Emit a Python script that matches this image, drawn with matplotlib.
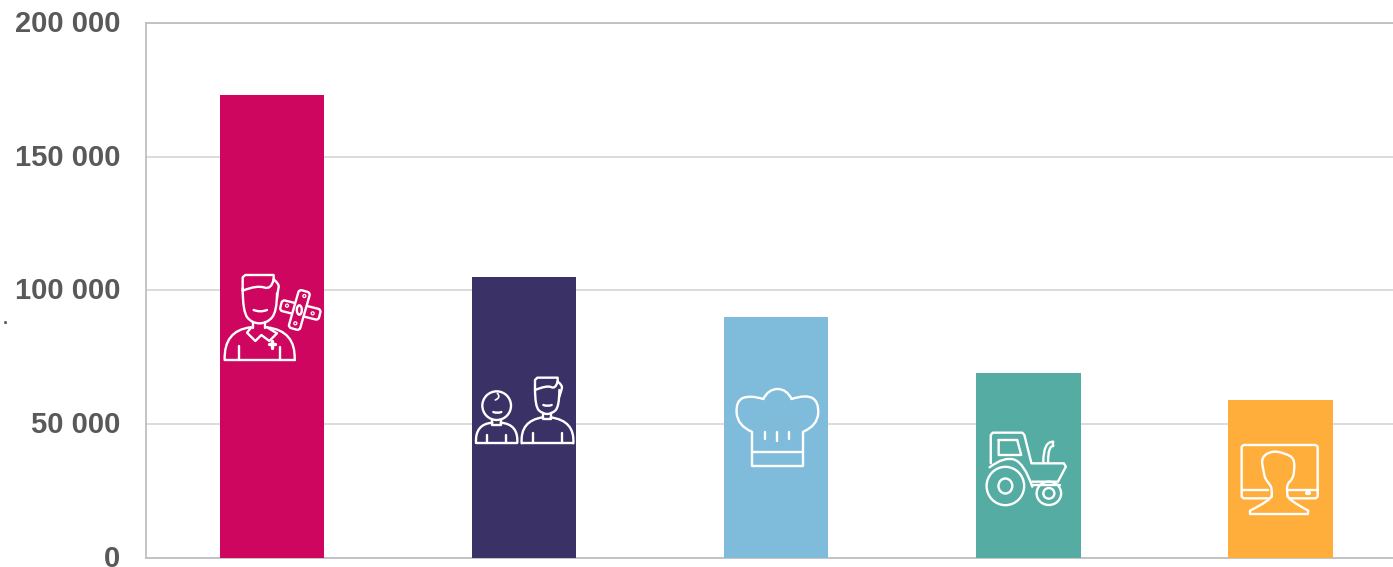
import matplotlib
matplotlib.use("Agg")
import matplotlib.pyplot as plt
from matplotlib.path import Path
from matplotlib.patches import PathPatch, Ellipse, FancyBboxPatch
from matplotlib.transforms import Affine2D, ScaledTranslation

plt.rcParams['font.family'] = ['Liberation Sans', 'DejaVu Sans']

values = [173000, 105000, 90000, 69000, 59000]
colors = ['#cf065f', '#3a3266', '#7fbcdb', '#55aca3', '#ffae3b']
ticks = [0, 50000, 100000, 150000, 200000]
tick_labels = ['0', '50 000', '100 000', '150 000', '200 000']

W, H = 1393, 567
fig = plt.figure(figsize=(W / 100, H / 100), dpi=100)

# axes box in pixels: x 146-1393, y 23-558
ax = fig.add_axes([146 / W, 1 - 558 / H, (1393 - 146) / W, (558 - 23) / H])
ax.bar(range(len(values)), values, width=0.414, color=colors, zorder=3)
ax.set_xlim(-0.5, 4.446)
ax.set_ylim(0, 200000)
ax.set_yticks(ticks)
ax.set_yticklabels(tick_labels, fontsize=21, fontweight='bold', color='#595959')
ax.set_xticks([])
ax.tick_params(axis='y', length=0, pad=18.5)
ax.grid(axis='y', color='#d9d9d9', lw=1.3, zorder=0)
for s in ['top', 'left', 'bottom']:
    ax.spines[s].set_color('#bfbfbf')
    ax.spines[s].set_linewidth(1.3)
ax.spines['right'].set_visible(False)
for lab in ax.get_yticklabels():
    lab.set_transform(lab.get_transform() + ScaledTranslation(0, 2 / 100, fig.dpi_scale_trans))

# overlay in pixel coords for the white icons
ov = fig.add_axes([0, 0, 1, 1], zorder=5)
ov.set_xlim(0, W)
ov.set_ylim(H, 0)
ov.axis('off')
ov.patch.set_alpha(0)

ov.text(5, 324, '.', fontsize=13, fontweight='bold', color='#595959', ha='center', va='baseline')

LW = 1.7


def conv(pts, off):
    return [(off[0] + x / off[2], off[1] + y / 3) for x, y in pts]


def line(pts, off, lw=LW):
    p = conv(pts, off)
    ov.plot([a for a, b in p], [b for a, b in p], color='white', lw=lw,
            solid_joinstyle='round', solid_capstyle='round')


def curve(pts, off, lw=LW, fc='none'):
    # quadratic spline through midpoints, ends kept
    p = conv(pts, off)
    verts = [p[0]]
    codes = [Path.MOVETO]
    for i in range(1, len(p) - 1):
        end = p[i + 1] if i == len(p) - 2 else ((p[i][0] + p[i + 1][0]) / 2, (p[i][1] + p[i + 1][1]) / 2)
        verts += [p[i], end]
        codes += [Path.CURVE3, Path.CURVE3]
    if len(p) == 2:
        verts.append(p[1])
        codes.append(Path.LINETO)
    ov.add_patch(PathPatch(Path(verts, codes), fc=fc, ec='white', lw=lw, capstyle='round', joinstyle='round'))


def oval(cx, cy, w, h, off, lw=LW):
    c = conv([(cx, cy)], off)[0]
    ov.add_patch(Ellipse(c, w / off[2], h / 3, fc='none', ec='white', lw=lw))


def band(cx, cy, length, thick, angle, off, fc):
    c = conv([(cx, cy)], off)[0]
    L, T = length / 3, thick / 3
    ov.add_patch(FancyBboxPatch((c[0] - L / 2, c[1] - T / 2), L, T, boxstyle='round,pad=0,rounding_size=3',
                                fc=fc, ec='white', lw=LW,
                                transform=Affine2D().rotate_deg_around(c[0], c[1], angle) + ov.transData))


# medic
om = (222, 270, 3)
line([(62, 62), (62, 22), (70, 15), (155, 15), (155, 28)], om)
curve([(155, 28), (172, 42), (168, 60), (165, 85)], om)
curve([(62, 55), (62, 125), (90, 160), (135, 160), (165, 125), (165, 70)], om)
curve([(62, 62), (105, 45), (148, 60), (155, 28)], om)
curve([(95, 120), (115, 128), (135, 120)], om)
line([(92, 155), (92, 175)], om)
line([(130, 155), (130, 175)], om)
curve([(8, 270), (5, 182), (85, 172)], om)
curve([(135, 172), (222, 182), (218, 270)], om)
line([(8, 270), (218, 270)], om)
line([(50, 228), (50, 270)], om)
line([(175, 232), (175, 270)], om)
line([(88, 172), (75, 188), (100, 213), (118, 195), (142, 213), (165, 190), (135, 172)], om)
line([(150, 212), (150, 233)], om, lw=2.4)
line([(140, 222), (160, 222)], om, lw=2.4)
band(235, 120, 120, 33, 14, om, colors[0])
band(232, 120, 118, 35, -74, om, colors[0])
oval(232, 120, 15, 28, om)
for cx, cy in [(195, 107), (272, 130), (247, 78), (220, 160)]:
    oval(cx, cy, 9, 9, om, lw=0.9)

# parent and child
o1 = (210, 260, 3)
line([(975, 385), (975, 360), (982, 353), (1043, 353), (1043, 365)], o1)
curve([(1043, 365), (1058, 375), (1053, 395), (1048, 410)], o1)
curve([(975, 385), (975, 440), (998, 462), (1025, 462), (1048, 440), (1048, 390)], o1)
curve([(975, 390), (1012, 375), (1036, 388), (1043, 365)], o1)
curve([(1000, 435), (1012, 440), (1025, 435)], o1)
line([(1000, 460), (1000, 478), (1022, 478), (1022, 460)], o1)
curve([(935, 550), (930, 482), (998, 472)], o1)
curve([(1022, 472), (1095, 482), (1090, 550)], o1)
line([(935, 550), (1090, 550)], o1)
line([(968, 520), (968, 550)], o1)
line([(1055, 520), (1055, 550)], o1)
oval(860, 437, 86, 86, o1)
curve([(862, 400), (874, 412), (856, 420)], o1, lw=1.2)
curve([(850, 456), (862, 461), (874, 456)], o1)
line([(847, 480), (847, 495), (872, 495), (872, 480)], o1)
curve([(798, 548), (795, 492), (847, 488)], o1)
curve([(872, 488), (925, 492), (922, 548)], o1)
line([(798, 548), (922, 548)], o1)
line([(832, 525), (832, 548)], o1)
line([(888, 525), (888, 548)], o1)

# chef hat
oh = (735, 385, 3)
curve([(50, 140), (8, 122), (2, 48), (45, 30), (85, 42)], oh)
curve([(85, 42), (100, 12), (155, 12), (170, 42)], oh)
curve([(170, 42), (212, 28), (252, 50), (247, 122), (205, 140)], oh)
line([(50, 140), (50, 242), (205, 242), (205, 140)], oh)
line([(50, 200), (205, 200)], oh)
line([(90, 142), (90, 163)], oh)
line([(126, 142), (126, 168)], oh)
line([(162, 142), (162, 163)], oh)

# tractor (this crop is 2.53x wide, 3x tall)
o2 = (720, 380, 2.53)
line([(685, 250), (685, 165), (690, 158), (765, 158), (770, 165), (788, 250), (870, 250), (875, 260),
      (855, 305), (790, 305)], o2)
line([(705, 180), (752, 180), (762, 225), (705, 225), (705, 180)], o2)
curve([(818, 245), (818, 185), (843, 185)], o2)
line([(843, 185), (843, 198)], o2)
curve([(843, 198), (830, 198), (830, 245)], o2)
curve([(682, 262), (720, 228), (770, 250), (790, 320)], o2)
oval(722, 318, 95, 115, o2)
oval(722, 318, 35, 45, o2)
oval(832, 340, 62, 70, o2)
oval(832, 340, 28, 32, o2)
line([(790, 315), (860, 315)], o2)

# monitor and user
ou = (1235, 440, 3)
line([(100, 175), (26, 175), (20, 170), (20, 20), (26, 15), (242, 15), (248, 20), (248, 170), (242, 175),
      (162, 175)], ou)
line([(20, 150), (100, 150)], ou)
line([(160, 150), (248, 150)], ou)
line([(217, 158), (223, 158)], ou, lw=3)
curve([(110, 170), (112, 145), (100, 128), (90, 115), (86, 95), (78, 52), (112, 32), (150, 40), (178, 55),
       (178, 95), (172, 118), (158, 130), (155, 150), (158, 170)], ou)
curve([(110, 168), (108, 180), (45, 212)], ou)
curve([(158, 168), (160, 180), (220, 212)], ou)
line([(45, 212), (45, 222), (220, 222), (220, 212)], ou)

fig.savefig('out.png', dpi=100)
